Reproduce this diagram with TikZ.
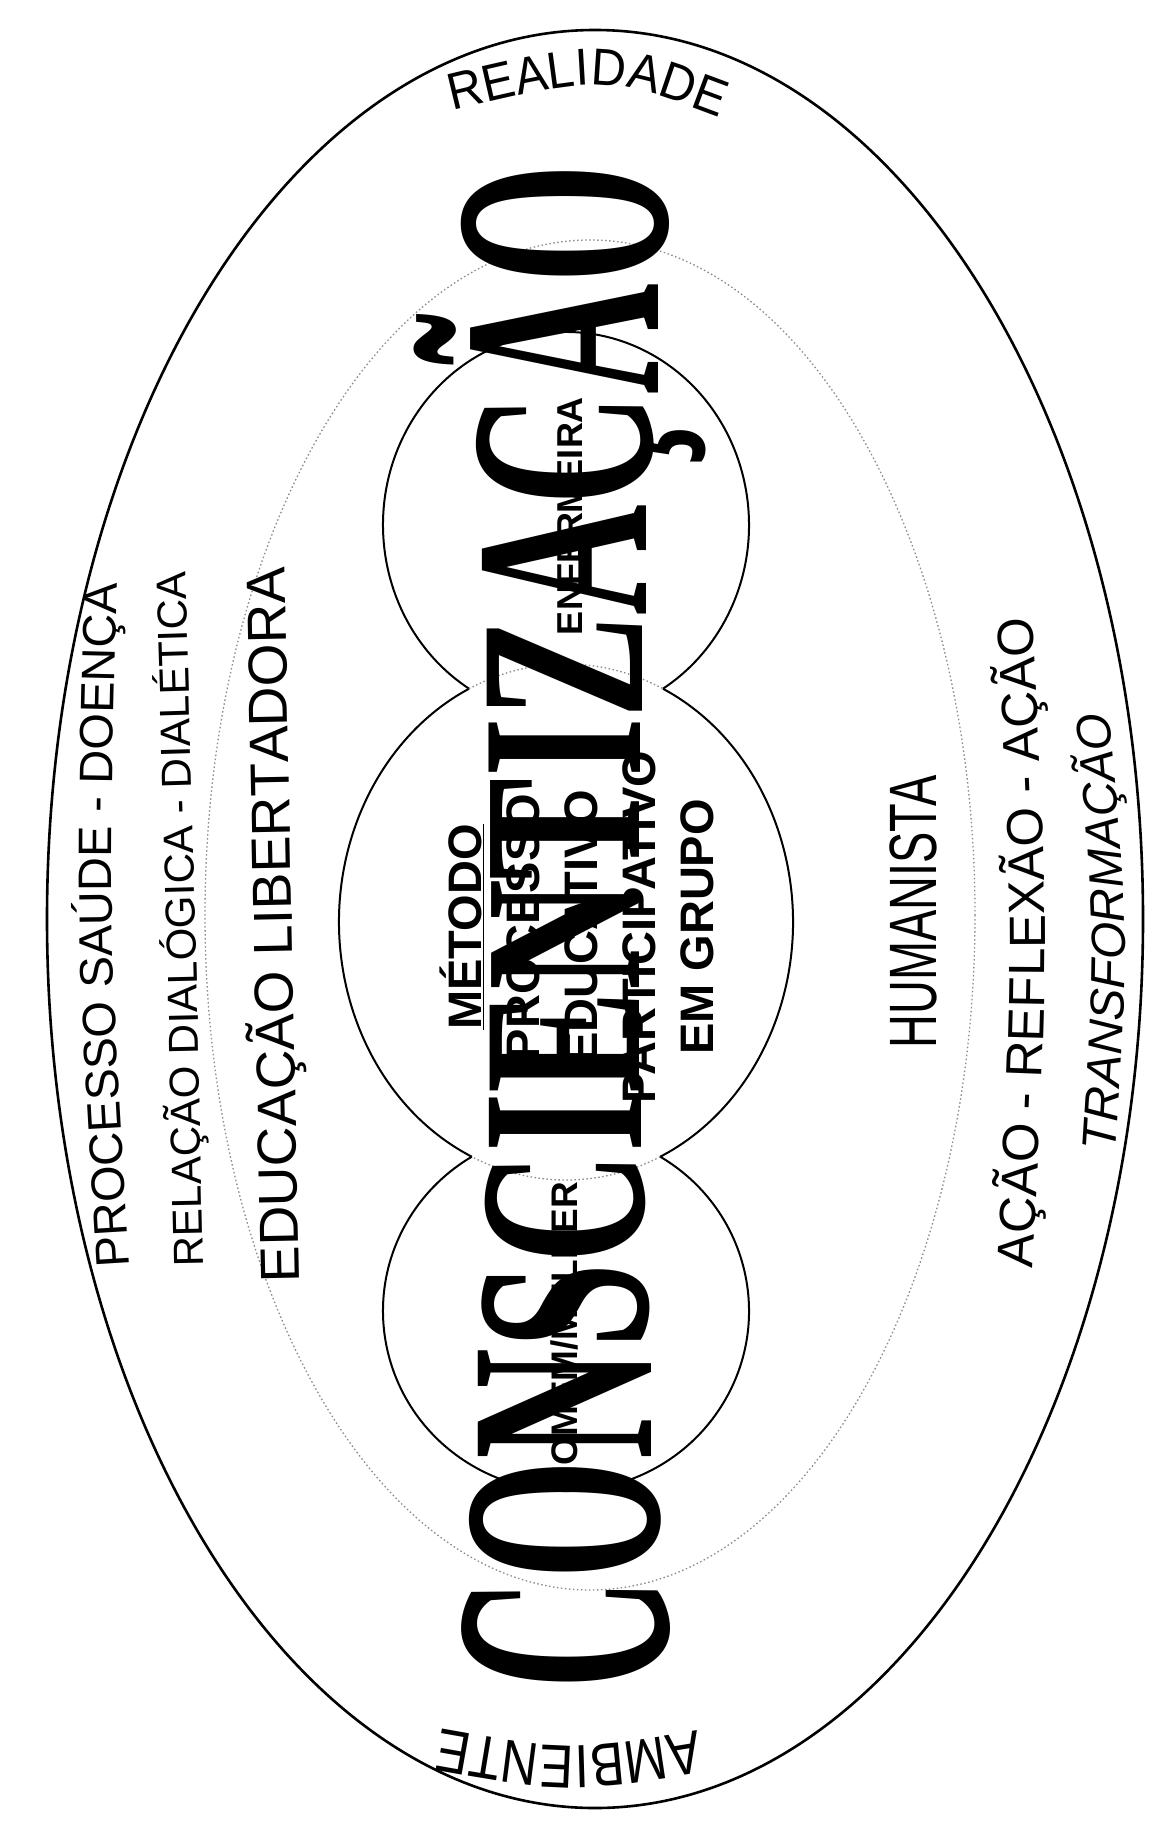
\documentclass[tikz,border=0pt]{standalone}
\usepackage{fontspec}
\usepackage{graphicx}
\usetikzlibrary{decorations.text,calc}
\newfontfamily\sansf{Liberation Sans}
\newfontfamily\sansreal[FakeStretch=0.93]{Liberation Sans}
\newfontfamily\sansamb[FakeStretch=0.83]{Liberation Sans}
\newfontfamily\humfont[FakeStretch=0.7]{Liberation Sans}
\newfontfamily\bigserif[FakeStretch=0.472]{Liberation Serif}
\newcommand{\BigLet}[4]{\node[lbl, rotate=90, anchor=base] (#4) at (#1)
  {\bigserif\bfseries\fontsize{325}{325}\selectfont\scalebox{1}[#2]{#3}};}
\begin{document}
\begin{tikzpicture}[x=1pt,y=-1pt,
  outerline/.style={line width=2.6pt},
  circline/.style={line width=2pt},
  dotline/.style={draw=black!45, line width=1.3pt, dash pattern=on 1.5pt off 2.5pt},
  lbl/.style={inner sep=0pt, text=black},
]
\useasboundingbox (0,0) rectangle (1152,1827);
\fill[white] (0,0) rectangle (1152,1827);

% outer ellipse
\coordinate (O) at (595,919);
\draw[outerline] (O) ellipse [x radius=548, y radius=889];

% middle dotted ellipse
\coordinate (Mid) at (590,915);
\draw[dotline] (Mid) ellipse [x radius=385, y radius=675];

% three circles
\coordinate (T) at (566,525);
\coordinate (M) at (566,922);
\coordinate (B) at (566,1311);
\draw[circline] ($(T)+(122:183 and 193)$) arc[start angle=122, end angle=418, x radius=183, y radius=193];
\draw[circline] ($(M)+(-64.7:227 and 258)$) arc[start angle=-64.7, end angle=65.5, x radius=227, y radius=258];
\draw[circline] ($(B)+(-59:183 and 180)$) arc[start angle=-59, end angle=239, x radius=183, y radius=180];
\draw[circline] ($(M)+(114.5:227 and 258)$) arc[start angle=114.5, end angle=244.7, x radius=227, y radius=258];
\draw[dotline] ($(M)+(-115.3:227 and 258)$) arc[start angle=-115.3, end angle=-64.7, x radius=227, y radius=258];
\draw[dotline] ($(M)+(65.5:227 and 258)$) arc[start angle=65.5, end angle=114.5, x radius=227, y radius=258];

% big word, letters pinched towards the middle
\BigLet{667,1634.4}{0.957}{C}{big1}
\BigLet{658.6,1519.4}{0.879}{O}{big2}
\BigLet{651.7,1404.3}{0.814}{N}{big3}
\BigLet{647,1306.3}{0.770}{S}{big4}
\BigLet{643.4,1208.3}{0.736}{C}{big5}
\BigLet{641.2,1123.1}{0.715}{I}{big6}
\BigLet{639.7,1042.1}{0.702}{E}{big7}
\BigLet{639,935.5}{0.695}{N}{big8}
\BigLet{639.6,829}{0.700}{T}{big9}
\BigLet{640.8,748}{0.712}{I}{big10}
\BigLet{642.8,667}{0.730}{Z}{big11}
\BigLet{646.5,560.5}{0.765}{A}{big12}
\BigLet{651.7,449.7}{0.814}{Ç}{big13}
\BigLet{658.3,339}{0.876}{Ã}{big14}
\BigLet{666.6,223.9}{0.954}{O}{big15}

% curved texts
\path[decorate, decoration={text along path, text align=center,
  text={|\sansreal\fontsize{52}{52}\selectfont|REALIDADE}}]
  (440,114) .. controls (605,74) .. (732,122);
\path[decorate, decoration={text along path, text align=center,
  text={|\sansamb\fontsize{61}{61}\selectfont|AMBIENTE}}]
  (712,1728) .. controls (570,1752) .. (426,1726);
\path[decorate, decoration={text along path, text align=center,
  text={|\sansf\fontsize{47}{47}\selectfont|PROCESSO SAÚDE - DOENÇA}}]
  (132,1310) .. controls (108,925) .. (118,540);
\path[decorate, decoration={text along path, text align=center,
  text={|\sansf\fontsize{42}{42}\selectfont|RELAÇÃO DIALÓGICA - DIALÉTICA}}]
  (204,1310) .. controls (196,919) .. (184,528);
\path[decorate, decoration={text along path, text align=center,
  text={|\sansf\fontsize{55}{55}\selectfont|EDUCAÇÃO LIBERTADORA}}]
  (300,1320) .. controls (292,925) .. (284,530);
\path[decorate, decoration={text along path, text align=center,
  text={|\sansf\fontsize{51}{51}\selectfont|AÇÃO - REFLEXÃO - AÇÃO}}]
  (1030,1310) .. controls (1050,943) .. (1030,576);
\path[decorate, decoration={text along path, text align=center,
  text={|\sansf\itshape\fontsize{48}{48}\selectfont|TRANSFORMAÇÃO}}]
  (1114,1180) .. controls (1130,932) .. (1106,684);

% inner labels
\node[lbl, rotate=90, font={\sansf\bfseries\fontsize{36}{40}\selectfont}] (enf) at (570,516) {ENFERMEIRA};
\node[lbl, rotate=90, font={\sansf\bfseries\fontsize{37}{40}\selectfont}] (homem) at (564,1337) {HOMEM/MULHER};
\node[lbl, rotate=90, align=center, font={\sansf\bfseries\fontsize{47}{58}\selectfont}] (metodo) at (577,927)
  {\underline{MÉTODO}\\PROCESSO\\EDUCATIVO\\PARTICIPATIVO\\EM GRUPO};
\node[lbl, rotate=90, font={\humfont\fontsize{67}{70}\selectfont}] (human) at (913,912) {HUMANISTA};
\end{tikzpicture}
\end{document}
